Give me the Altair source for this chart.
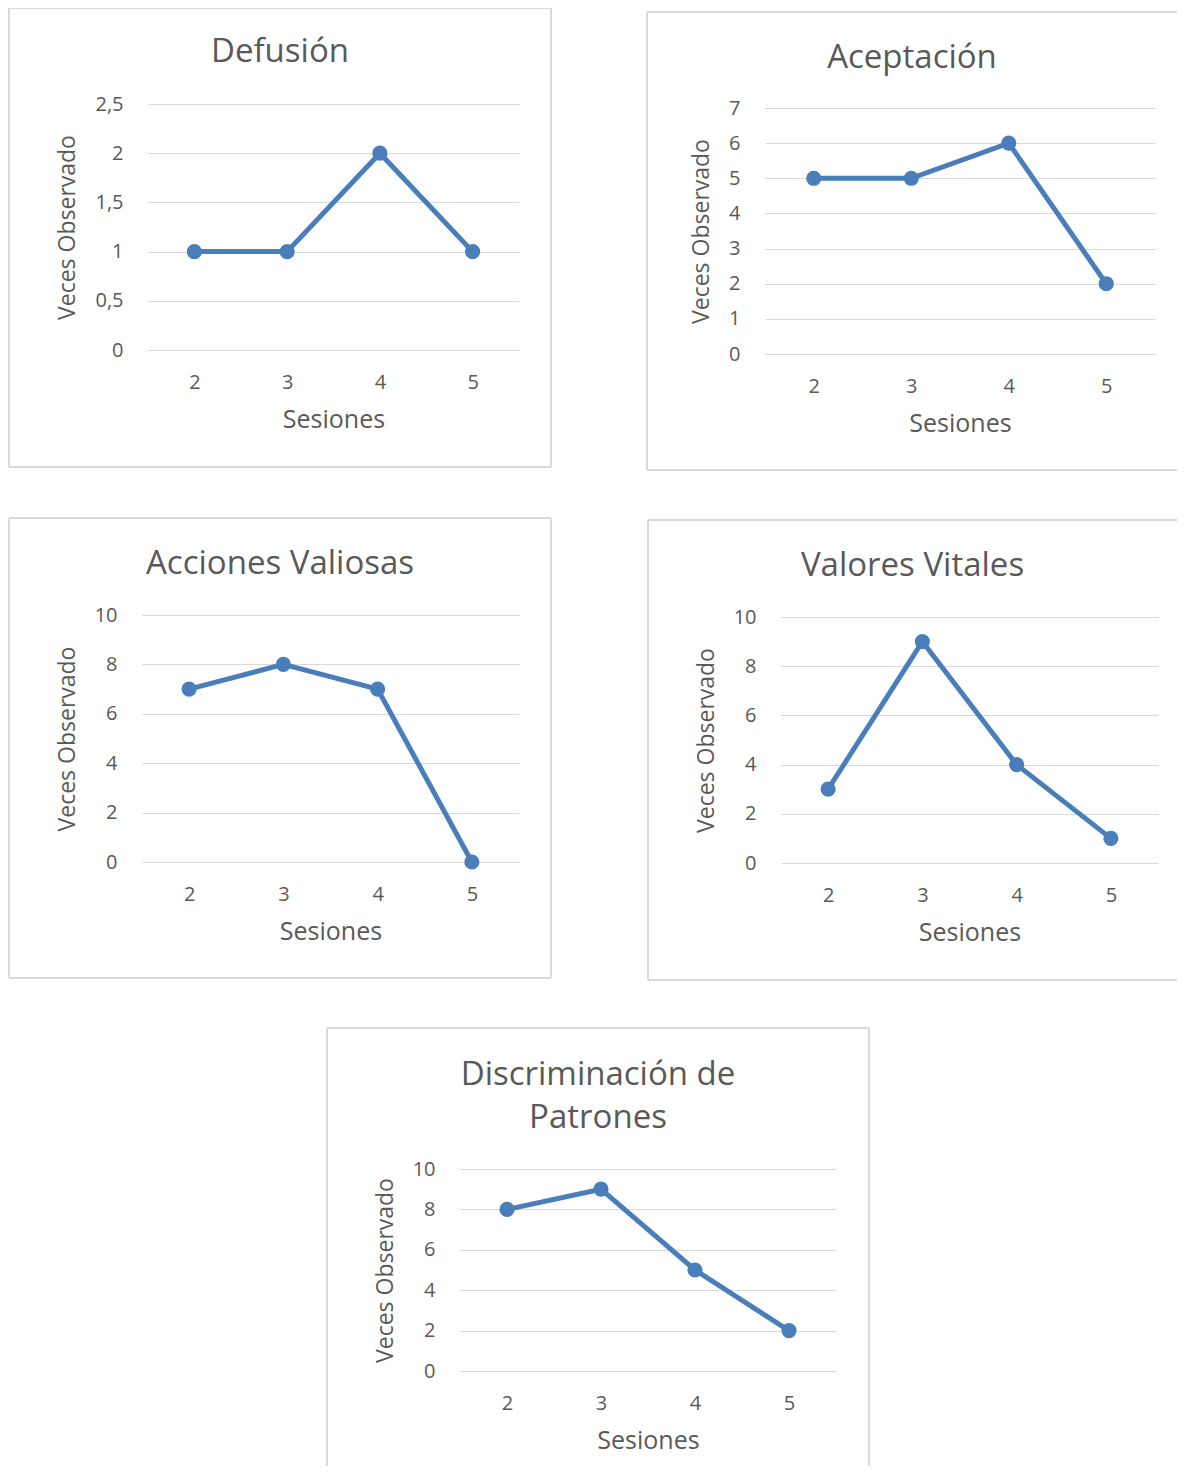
import altair as alt
import pandas as pd

# ---- data ----
sessions = ["2", "3", "4", "5"]
defusion = [1, 1, 2, 1]
aceptacion = [5, 5, 6, 2]
acciones = [7, 8, 7, 0]
valores = [3, 9, 4, 1]
discriminacion = [8, 9, 5, 2]

ticks_defusion = [0, 0.5, 1, 1.5, 2, 2.5]
ticks_aceptacion = [0, 1, 2, 3, 4, 5, 6, 7]
ticks_ten = [0, 2, 4, 6, 8, 10]

FONT = "Open Sans"
TEXT = "#595959"
GRID = "#D9D9D9"
BLUE = "#4A7EBB"


def rule(x0, x1, y0, y1):
    enc = dict(x=alt.value(x0), y=alt.value(y0))
    if x1 != x0:
        enc["x2"] = alt.value(x1)
    if y1 != y0:
        enc["y2"] = alt.value(y1)
    return alt.Chart(pd.DataFrame({"b": [0]})).mark_rule(
        color=GRID, strokeWidth=2
    ).encode(**enc)


def panel(title, values, ticks, ymax, width, height, top_pad, box, title_dy,
          right=True, bottom=True, label_expr=None, line_height=43):
    df = pd.DataFrame({"Sesiones": sessions, "Veces": values})
    x = alt.X(
        "Sesiones:O",
        sort=sessions,
        scale=alt.Scale(type="point", padding=0.5),
        axis=alt.Axis(title="Sesiones", labelAngle=0, labelPadding=22,
                      titleY=77, titleBaseline="alphabetic", titleFontSize=25,
                      grid=False),
    )
    ykw = dict(values=ticks, title="Veces Observado", grid=True,
               labelPadding=25, titlePadding=15, titleFontSize=23)
    if label_expr:
        ykw["labelExpr"] = label_expr
    y = alt.Y(
        "Veces:Q",
        scale=alt.Scale(domain=[0, ymax], range=[height, top_pad], nice=False, zero=True),
        axis=alt.Axis(**ykw),
    )
    base = alt.Chart(df).encode(x=x, y=y)
    line = base.mark_line(color=BLUE, strokeWidth=5)
    pts = base.mark_point(filled=True, color=BLUE, size=230, opacity=1)
    bx0, bx1, by0, by1 = box
    borders = [rule(bx0, bx1, by0, by0), rule(bx0, bx0, by0, by1)]
    if bottom:
        borders.append(rule(bx0, bx1, by1, by1))
    if right:
        borders.append(rule(bx1, bx1, by0, by1))
    return alt.layer(*borders, line, pts).properties(
        width=width,
        height=height,
        title=alt.TitleParams(text=title, anchor="middle", frame="bounds", offset=0,
                              dy=title_dy, fontSize=33, font=FONT, color=TEXT,
                              fontWeight="normal", lineHeight=line_height),
    )


def spacer(w):
    return alt.Chart(pd.DataFrame({"s": [0]})).mark_point(opacity=0, size=1).encode(
        x=alt.value(3), y=alt.value(0)
    ).properties(width=w, height=1)


p1 = panel("Defusión", defusion, ticks_defusion, 2.5, 371, 246, 0,
           (-139, 403, -96, 363), 62,
           label_expr="replace(format(datum.value, '~g'), '.', ',')")
p2 = panel("Aceptación", aceptacion, ticks_aceptacion, 7, 390, 250, 4,
           (-118, 412, -92, 366), 64, right=False)
p3 = panel("Acciones Valiosas", acciones, ticks_ten, 10, 377, 247, 0,
           (-133, 409, -97, 363), 64)
p4 = panel("Valores Vitales", valores, ticks_ten, 10, 377, 248, 2,
           (-133, 396, -95, 365), 64, right=False)
p5 = panel(["Discriminación de", "Patrones"], discriminacion, ticks_ten, 10, 376, 202, 0,
           (-133, 409, -141, 297), 108, bottom=False)

row1 = alt.hconcat(spacer(138), p1, spacer(246), p2, spacing=0, bounds="flush")
row2 = alt.hconcat(spacer(132), p3, spacer(262), p4, spacing=0, bounds="flush")
row3 = alt.hconcat(spacer(450), p5, spacing=0, bounds="flush")

chart = alt.vconcat(row1, row2, row3, spacing=46, bounds="full").properties(
    padding={"top": -1, "left": 0, "right": 0, "bottom": 0}, background="white"
).configure_view(strokeWidth=0).configure_axis(
    labelFont=FONT, titleFont=FONT, labelColor=TEXT, titleColor=TEXT,
    labelFontSize=20, titleFontWeight="normal",
    domain=False, ticks=False, tickSize=0, gridColor=GRID, gridWidth=1.2,
)

chart.save("out.html", embed_options={"renderer": "svg", "actions": False})
